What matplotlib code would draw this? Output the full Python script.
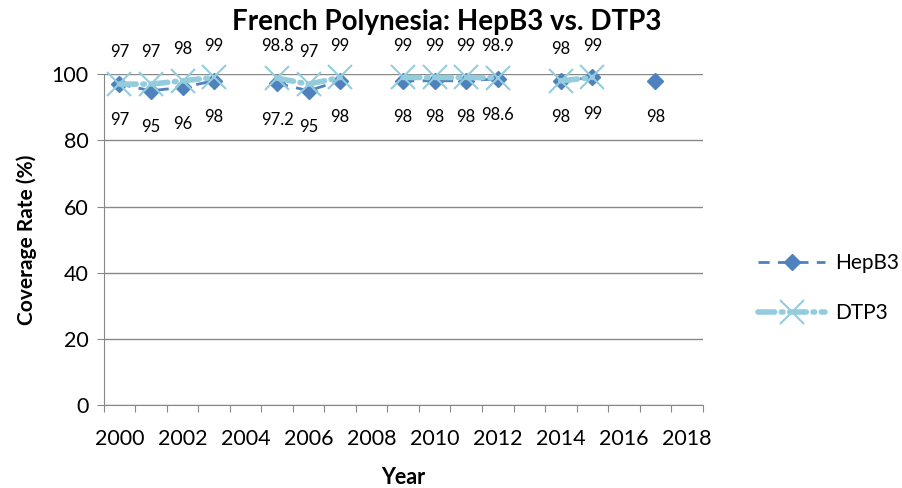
import numpy as np
import matplotlib
matplotlib.use('Agg')
import matplotlib.pyplot as plt

plt.rcParams['font.family'] = ['Lato', 'DejaVu Sans']

# Data (NaN = no report that year, line breaks there)
years = list(range(2000, 2019))
hepb3 = [97, 95, 96, 98, np.nan, 97.2, 95, 98, np.nan, 98, 98, 98, 98.6,
         np.nan, 98, 99, np.nan, 98, np.nan]
dtp3 = [97, 97, 98, 99, np.nan, 98.8, 97, 99, np.nan, 99, 99, 99, 98.9,
        np.nan, 98, 99, np.nan, np.nan, np.nan]
hep_labels = ['97', '95', '96', '98', '', '97.2', '95', '98', '', '98', '98', '98', '98.6',
              '', '98', '99', '', '98', '']
dtp_labels = ['97', '97', '98', '99', '', '98.8', '97', '99', '', '99', '99', '99', '98.9',
              '', '98', '99', '', '', '']

hep_color = '#4F81BD'
dtp_color = '#93CDDD'
grid_color = '#888888'

fig = plt.figure(figsize=(9.02, 4.88), dpi=100)
ax = fig.add_axes([0.115, 0.170, 0.664, 0.678])

ax.plot(years, hepb3, color=hep_color, lw=2, ls=(0, (4, 3)), marker='D',
        markersize=8, markerfacecolor=hep_color, markeredgecolor=hep_color,
        label='HepB3', clip_on=False, zorder=3)
ax.plot(years, dtp3, color=dtp_color, lw=4, ls=(0, (3, 1.2, 0.3, 1.2)),
        dash_capstyle='round', marker='x', markersize=17, markeredgewidth=1.5,
        label='DTP3', clip_on=False, zorder=4)

# data labels: DTP3 above, HepB3 below
for x, v, t in zip(years, dtp3, dtp_labels):
    if t:
        ax.annotate(t, (x, v), xytext=(0, 23), textcoords='offset points',
                    ha='center', va='center', fontsize=12)
for x, v, t in zip(years, hepb3, hep_labels):
    if t:
        ax.annotate(t, (x, v), xytext=(0, -26), textcoords='offset points',
                    ha='center', va='center', fontsize=12)

ax.set_xlim(1999.5, 2018.5)
ax.set_ylim(0, 100)
ax.set_yticks(range(0, 101, 20))
ax.yaxis.grid(True, color=grid_color, lw=1)
ax.set_axisbelow(True)

# category-style axis: ticks between years, labels every second year
ax.set_xticks(np.arange(1999.5, 2019, 1))
ax.set_xticklabels([])
ax.set_xticks(range(2000, 2019, 2), minor=True)
ax.set_xticklabels([str(y) for y in range(2000, 2019, 2)], minor=True, fontsize=15.5)
ax.tick_params(axis='x', which='minor', length=0, pad=17)
ax.tick_params(axis='x', which='major', length=5, color=grid_color, direction='out')
ax.tick_params(axis='y', length=5, color=grid_color, labelsize=15.5, pad=6)

for s in ['top', 'right']:
    ax.spines[s].set_visible(False)
for s in ['left', 'bottom']:
    ax.spines[s].set_color(grid_color)

ax.set_xlabel('Year', fontsize=15.5, fontweight='bold', labelpad=13)
ax.set_ylabel('Coverage Rate (%)', fontsize=15, fontweight='bold', labelpad=10)
fig.suptitle('French Polynesia: HepB3 vs. DTP3', x=0.495, y=0.982,
             fontsize=20, fontweight='bold')

fig.legend(loc='center left', bbox_to_anchor=(0.82, 0.41), frameon=False,
           fontsize=15, handlelength=3.2, labelspacing=1.45, handletextpad=0.5)

fig.savefig('out.png', dpi=100)
